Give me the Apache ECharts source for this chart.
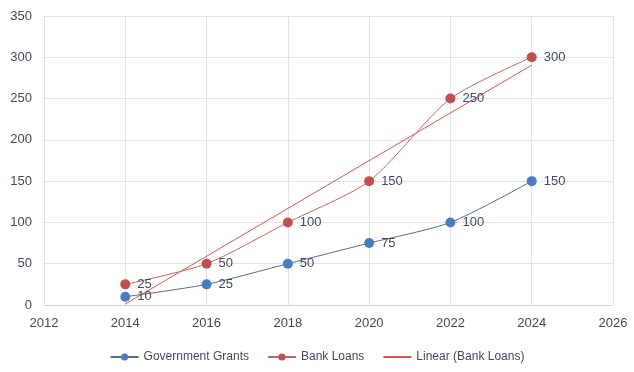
<!DOCTYPE html>
<html>
<head>
<meta charset="utf-8">
<script src="https://cdn.jsdelivr.net/npm/echarts@6/dist/echarts.min.js"></script>
<style>
  html, body { margin: 0; padding: 0; background: #fff; }
  #chart { width: 634px; height: 372px; }
</style>
</head>
<body>
<div id="chart"></div>
<script>
// Funding sources by year
const years = [2014, 2016, 2018, 2020, 2022, 2024];
const governmentGrants = [10, 25, 50, 75, 100, 150];
const bankLoans = [25, 50, 100, 150, 250, 300];
// Linear trend of bank loans (end points)
const trendYears = [2014, 2024];
const trendValues = [1.2, 290.5];

const seriesNames = ['Government Grants', 'Bank Loans', 'Linear (Bank Loans)'];

const blue = '#4a7cc6';
const red = '#c0504d';
const textColor = '#3f4a5c';
const gridColor = '#dfe4ee';
const font = '"Liberation Sans Narrow", "Liberation Sans", sans-serif';

const pairs = (xs, ys) => xs.map((x, i) => [x, ys[i]]);

const chart = echarts.init(document.getElementById('chart'), null, { renderer: 'canvas' });

const labelCfg = {
  show: true,
  position: 'right',
  distance: 7,
  color: textColor,
  fontSize: 13,
  fontFamily: font
};

chart.setOption({
  animation: false,
  textStyle: { fontFamily: font },
  grid: { left: 44, right: 21, top: 16, bottom: 67 },
  xAxis: {
    type: 'value',
    min: 2012,
    max: 2026,
    interval: 2,
    axisLine: { show: true, lineStyle: { color: '#cdd6e6', width: 1 } },
    axisTick: { show: false },
    axisLabel: {
      color: textColor, fontSize: 13, fontFamily: font, margin: 12,
      formatter: v => String(v)
    },
    splitLine: { show: true, lineStyle: { color: gridColor, width: 1 } }
  },
  yAxis: {
    type: 'value',
    min: 0,
    max: 350,
    interval: 50,
    axisLine: { show: false },
    axisTick: { show: false },
    axisLabel: { color: textColor, fontSize: 13, fontFamily: font, margin: 12 },
    splitLine: { show: true, lineStyle: { color: gridColor, width: 1 } }
  },
  legend: {
    bottom: 4,
    left: 'center',
    itemGap: 18,
    itemWidth: 28,
    itemHeight: 9,
    textStyle: { color: textColor, fontSize: 12, fontFamily: font },
    data: [
      { name: seriesNames[0] },
      { name: seriesNames[1] },
      { name: seriesNames[2], itemStyle: { opacity: 0 } }
    ]
  },
  series: [
    {
      name: seriesNames[0],
      type: 'line',
      data: pairs(years, governmentGrants),
      smooth: 0.25,
      symbol: 'circle',
      symbolSize: 10,
      itemStyle: { color: blue },
      lineStyle: { color: '#5b6b86', width: 1 },
      label: labelCfg,
      z: 4
    },
    {
      name: seriesNames[1],
      type: 'line',
      data: pairs(years, bankLoans),
      smooth: 0.25,
      symbol: 'circle',
      symbolSize: 10,
      itemStyle: { color: red },
      lineStyle: { color: '#c06562', width: 1 },
      label: labelCfg,
      z: 4
    },
    {
      name: seriesNames[2],
      type: 'line',
      data: pairs(trendYears, trendValues),
      symbol: 'none',
      itemStyle: { color: '#d9534f' },
      lineStyle: { color: '#d9534f', width: 1 },
      z: 3
    }
  ]
});
</script>
</body>
</html>
